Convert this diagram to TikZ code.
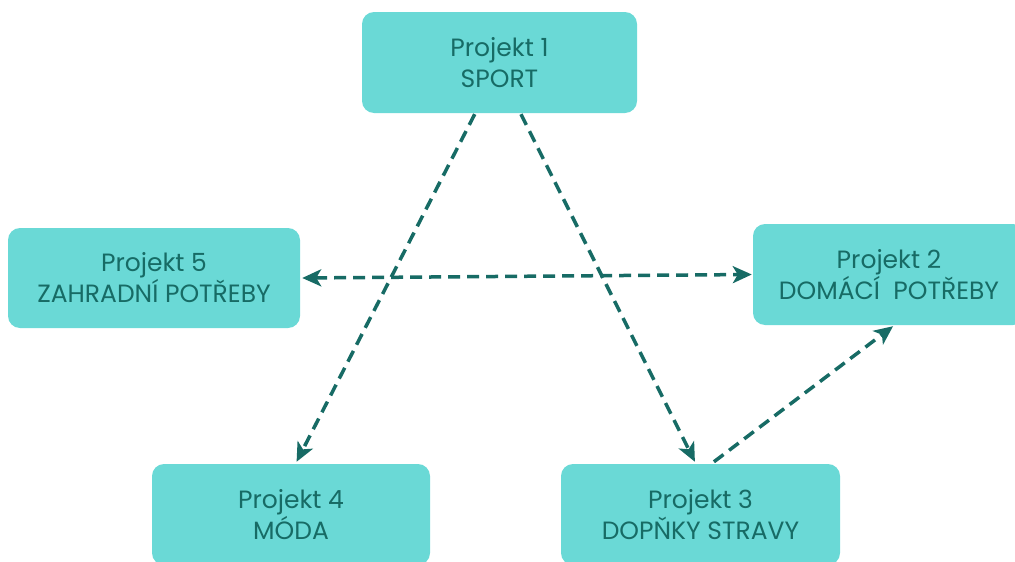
\documentclass[tikz,border=0pt]{standalone}
\usepackage{fontspec}
\setmainfont{Poppins}
\usetikzlibrary{calc,arrows.meta}
\definecolor{boxfill}{HTML}{6AD9D6}
\definecolor{ink}{HTML}{176B65}
\begin{document}
\begin{tikzpicture}[x=1pt,y=-1pt,
  proj/.style={draw=none,fill=boxfill,rounded corners=12pt,text=ink,
    align=center,font=\fontsize{25}{31}\selectfont,inner sep=0pt},
  link/.style={draw=ink,line width=3.5pt,dash pattern=on 12pt off 7pt,
    -{Stealth[length=19pt,width=17pt,inset=5pt]}},
  link2/.style={link,{Stealth[length=19pt,width=17pt,inset=5pt]}-{Stealth[length=19pt,width=17pt,inset=5pt]}}]
\useasboundingbox (0,0) rectangle (1015,562);
\node[proj,minimum width=275pt,minimum height=101pt] (p1) at (499.5,62.5) {Projekt 1\\SPORT};
\node[proj,minimum width=292pt,minimum height=100pt] (p5) at (154,278) {Projekt 5\\ZAHRADNÍ POTŘEBY};
\node[proj,minimum width=272pt,minimum height=101pt] (p2) at (889,274.5) {Projekt 2\\DOMÁCÍ~ POTŘEBY};
\node[proj,minimum width=278pt,minimum height=101pt] (p4) at (291,514.5) {Projekt 4\\MÓDA};
\node[proj,minimum width=279pt,minimum height=101pt] (p3) at (700.5,514.5) {Projekt 3\\DOPŇKY STRAVY};
% connectors between projects
\draw[link] ($(p1.south west)!0.41!(p1.south east)+(0,1)$) -- ($(p4.north west)!0.52!(p4.north east)+(0,-2)$);
\draw[link] ($(p1.south west)!0.578!(p1.south east)+(0,1)$) -- ($(p3.north west)!0.48!(p3.north east)+(0,-2)$);
\draw[link2] ($(p5.east)+(2,0)$) -- ($(p2.west)+(-1,0)$);
\draw[link] ($(p3.north west)!0.548!(p3.north east)+(0,-2)$) -- ($(p2.south west)!0.515!(p2.south east)+(0,1)$);
\end{tikzpicture}
\end{document}
